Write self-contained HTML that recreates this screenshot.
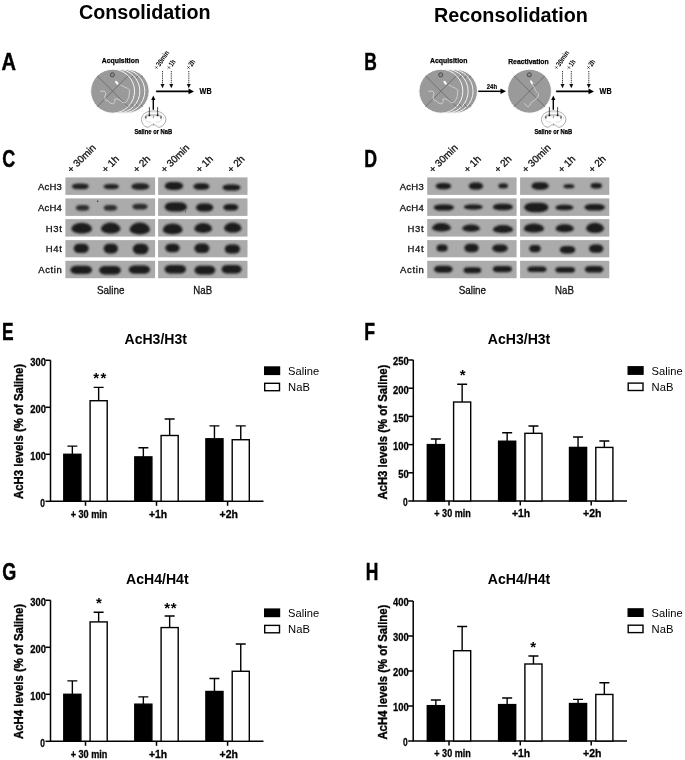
<!DOCTYPE html>
<html><head><meta charset="utf-8"><style>
html,body{margin:0;padding:0;background:#fff;}
svg{display:block;will-change:transform;filter:blur(0.3px);}
text{font-family:"Liberation Sans",sans-serif;}
</style></head><body>
<svg width="685" height="760" viewBox="0 0 685 760">
<defs>
<filter id="bl" x="-50%" y="-50%" width="200%" height="200%"><feGaussianBlur stdDeviation="0.8"/></filter>
</defs>
<rect width="685" height="760" fill="#fff"/>
<text x="79.0" y="18.6" font-size="20" font-weight="bold" text-anchor="start" textLength="131.5" lengthAdjust="spacingAndGlyphs" fill="#000" >Consolidation</text>
<text x="434.0" y="22.2" font-size="20" font-weight="bold" text-anchor="start" textLength="153.8" lengthAdjust="spacingAndGlyphs" fill="#000" >Reconsolidation</text>
<text x="1.5" y="69.8" font-size="24" font-weight="bold" textLength="14.5" lengthAdjust="spacingAndGlyphs" stroke="#000" stroke-width="0.45">A</text>
<text x="364.3" y="69.8" font-size="24" font-weight="bold" textLength="12.6" lengthAdjust="spacingAndGlyphs" stroke="#000" stroke-width="0.45">B</text>
<text x="2.2" y="166.6" font-size="24" font-weight="bold" textLength="13.0" lengthAdjust="spacingAndGlyphs" stroke="#000" stroke-width="0.45">C</text>
<text x="364.3" y="166.9" font-size="24" font-weight="bold" textLength="12.8" lengthAdjust="spacingAndGlyphs" stroke="#000" stroke-width="0.45">D</text>
<text x="2.0" y="339.8" font-size="24" font-weight="bold" textLength="11.6" lengthAdjust="spacingAndGlyphs" stroke="#000" stroke-width="0.45">E</text>
<text x="364.3" y="339.8" font-size="24" font-weight="bold" textLength="10.8" lengthAdjust="spacingAndGlyphs" stroke="#000" stroke-width="0.45">F</text>
<text x="2.2" y="579.6" font-size="24" font-weight="bold" textLength="14.0" lengthAdjust="spacingAndGlyphs" stroke="#000" stroke-width="0.45">G</text>
<text x="365.7" y="579.8" font-size="24" font-weight="bold" textLength="12.6" lengthAdjust="spacingAndGlyphs" stroke="#000" stroke-width="0.45">H</text>
<g transform="translate(0,0)">
<clipPath id="ac0"><circle cx="127.19999999999999" cy="91.2" r="21.95"/></clipPath>
<circle cx="127.19999999999999" cy="91.2" r="21.95" fill="#9a9a9a" stroke="#fff" stroke-width="0.9"/>
<g clip-path="url(#ac0)" stroke="#555" stroke-width="0.6"><path d="M105.24999999999999 69.25 L149.14999999999998 113.15 M149.14999999999998 69.25 L105.24999999999999 113.15"/></g>
<circle cx="126.99999999999999" cy="74.80000000000001" r="2.1" fill="#8a8a8a" stroke="#333" stroke-width="0.7"/>
<clipPath id="ac1"><circle cx="122.8" cy="91.2" r="21.95"/></clipPath>
<circle cx="122.8" cy="91.2" r="21.95" fill="#9a9a9a" stroke="#fff" stroke-width="0.9"/>
<g clip-path="url(#ac1)" stroke="#555" stroke-width="0.6"><path d="M100.85 69.25 L144.75 113.15 M144.75 69.25 L100.85 113.15"/></g>
<circle cx="122.6" cy="74.80000000000001" r="2.1" fill="#8a8a8a" stroke="#333" stroke-width="0.7"/>
<clipPath id="ac2"><circle cx="117.89999999999999" cy="91.2" r="21.95"/></clipPath>
<circle cx="117.89999999999999" cy="91.2" r="21.95" fill="#9a9a9a" stroke="#fff" stroke-width="0.9"/>
<g clip-path="url(#ac2)" stroke="#555" stroke-width="0.6"><path d="M95.94999999999999 69.25 L139.85 113.15 M139.85 69.25 L95.94999999999999 113.15"/></g>
<circle cx="117.69999999999999" cy="74.80000000000001" r="2.1" fill="#8a8a8a" stroke="#333" stroke-width="0.7"/>
<clipPath id="ac3"><circle cx="112.6" cy="91.2" r="21.95"/></clipPath>
<circle cx="112.6" cy="91.2" r="21.95" fill="#9a9a9a" stroke="#fff" stroke-width="0.9"/>
<g clip-path="url(#ac3)" stroke="#555" stroke-width="0.6"><path d="M90.64999999999999 69.25 L134.54999999999998 113.15 M134.54999999999998 69.25 L90.64999999999999 113.15"/></g>
<circle cx="112.39999999999999" cy="74.80000000000001" r="2.1" fill="#8a8a8a" stroke="#333" stroke-width="0.7"/>
<path d="M100,91.2 L104.4,91.2 L105.9,93.4 L104.8,96.7 L105.2,99.9 L108.1,101 L109.9,102.9 L113.2,104 L115,101.8 L114.6,99.2 L117.2,98.8 L120.1,100.3 L122.7,102.5 L125.2,102.9 L127.4,100.3 L128.9,96.7 L129.6,90.1 L127.4,88.3 L124.5,87.2 L122.3,85.7 L120.5,85.3" fill="none" stroke="#e2e2e2" stroke-width="0.7" stroke-linejoin="round"/>
<ellipse cx="116.8" cy="82.8" rx="1.1" ry="2.3" transform="rotate(-40 116.8 82.8)" fill="#fff"/>
<text x="101.7" y="63.1" font-size="7.2" font-weight="bold" text-anchor="start" textLength="37.5" lengthAdjust="spacingAndGlyphs" fill="#000" stroke="#000" stroke-width="0.25">Acquisition</text>
</g>
<g transform="translate(0,0)">
<path d="M156.1 91.4 H190" stroke="#000" stroke-width="1.6"/>
<path d="M194 91.4 L188.5 88.6 L188.5 94.2 Z" fill="#000"/>
<text x="199.6" y="93.8" font-size="8.2" font-weight="bold" text-anchor="start" textLength="12.0" lengthAdjust="spacingAndGlyphs" fill="#000" stroke="#000" stroke-width="0.2">WB</text>
<path d="M162.5 71 V84" stroke="#222" stroke-width="0.9" stroke-dasharray="1.1 0.7"/>
<path d="M162.5 88.3 L160.5 84 L164.5 84 Z" fill="#111"/>
<path d="M171.3 71 V84" stroke="#222" stroke-width="0.9" stroke-dasharray="1.1 0.7"/>
<path d="M171.3 88.3 L169.3 84 L173.3 84 Z" fill="#111"/>
<path d="M188.8 71 V84" stroke="#222" stroke-width="0.9" stroke-dasharray="1.1 0.7"/>
<path d="M188.8 88.3 L186.8 84 L190.8 84 Z" fill="#111"/>
<text transform="translate(159.8,67.0) rotate(-56)" font-size="7.4" font-weight="bold" textLength="17.2" lengthAdjust="spacingAndGlyphs">30min</text>
<path d="M155.3 66.4 l2.2 2.2 M157.5 66.4 l-2.2 2.2" stroke="#111" stroke-width="0.7"/>
<text transform="translate(172.3,67.0) rotate(-56)" font-size="7.4" font-weight="bold" textLength="6.4" lengthAdjust="spacingAndGlyphs">1h</text>
<path d="M167.8 66.4 l2.2 2.2 M170.0 66.4 l-2.2 2.2" stroke="#111" stroke-width="0.7"/>
<text transform="translate(191.9,67.0) rotate(-56)" font-size="7.4" font-weight="bold" textLength="6.6" lengthAdjust="spacingAndGlyphs">2h</text>
<path d="M187.4 66.4 l2.2 2.2 M189.6 66.4 l-2.2 2.2" stroke="#111" stroke-width="0.7"/>
<path d="M153.3 109.8 V99" stroke="#000" stroke-width="1.4"/>
<path d="M153.3 95.6 L151.2 100 L155.4 100 Z" fill="#000"/>
<path d="M149.2 111.4 C144 112.5 141.3 116 141.4 119.5 C141.5 123.5 144 126.3 147 127.2 C148.6 127.6 149.6 126.6 150.6 125.6 C151.6 124.8 152.8 124.8 153.4 125 C154 124.8 155.2 124.8 156.2 125.6 C157.2 126.6 158.2 127.6 159.8 127.2 C162.8 126.3 165.8 123.5 165.9 119.5 C166 116 163 112.5 157.8 111.4 C155 110.8 152 110.8 149.2 111.4 Z" fill="#fff" stroke="#777" stroke-width="0.6"/>
<path d="M144.8 115.6 C147.5 113.6 150.5 114 153.4 114.2 C156.3 114 159.3 113.6 162 115.6 L161.2 117.2 C158.8 116 156 116.2 153.4 116.4 C150.8 116.2 148 116 145.6 117.2 Z" fill="#c8c8c8"/>
<path d="M145 119 C146 121.5 148.5 122.6 151 122 M161.8 119 C160.8 121.5 158.3 122.6 155.8 122" fill="none" stroke="#cfcfcf" stroke-width="0.7"/>
<path d="M143.2 119.5 C143.3 115.5 147 112.8 153.4 112.5 C159.8 112.8 163.5 115.5 163.6 119.5" fill="none" stroke="#d6d6d6" stroke-width="0.5"/>
<ellipse cx="145.8" cy="117.4" rx="1" ry="1.4" fill="#777"/><ellipse cx="161" cy="117.4" rx="1" ry="1.4" fill="#777"/>
<path d="M153.4 115.8 V118.4 M153.4 123.4 V125.2" stroke="#777" stroke-width="0.7"/>
<path d="M149.4 107.1 V115.2" stroke="#222" stroke-width="0.8"/>
<circle cx="149.4" cy="115.3" r="0.9" fill="#111"/>
<path d="M157.6 107.1 V115.2" stroke="#222" stroke-width="0.8"/>
<circle cx="157.6" cy="115.3" r="0.9" fill="#111"/>
<text x="134.4" y="133.6" font-size="6.6" font-weight="bold" text-anchor="start" textLength="37.8" lengthAdjust="spacingAndGlyphs" fill="#000" stroke="#000" stroke-width="0.25">Saline or NaB</text>
</g>
<g transform="translate(328.3,0)">
<clipPath id="bc0"><circle cx="127.19999999999999" cy="91.2" r="21.95"/></clipPath>
<circle cx="127.19999999999999" cy="91.2" r="21.95" fill="#9a9a9a" stroke="#fff" stroke-width="0.9"/>
<g clip-path="url(#bc0)" stroke="#555" stroke-width="0.6"><path d="M105.24999999999999 69.25 L149.14999999999998 113.15 M149.14999999999998 69.25 L105.24999999999999 113.15"/></g>
<circle cx="126.99999999999999" cy="74.80000000000001" r="2.1" fill="#8a8a8a" stroke="#333" stroke-width="0.7"/>
<clipPath id="bc1"><circle cx="122.8" cy="91.2" r="21.95"/></clipPath>
<circle cx="122.8" cy="91.2" r="21.95" fill="#9a9a9a" stroke="#fff" stroke-width="0.9"/>
<g clip-path="url(#bc1)" stroke="#555" stroke-width="0.6"><path d="M100.85 69.25 L144.75 113.15 M144.75 69.25 L100.85 113.15"/></g>
<circle cx="122.6" cy="74.80000000000001" r="2.1" fill="#8a8a8a" stroke="#333" stroke-width="0.7"/>
<clipPath id="bc2"><circle cx="117.89999999999999" cy="91.2" r="21.95"/></clipPath>
<circle cx="117.89999999999999" cy="91.2" r="21.95" fill="#9a9a9a" stroke="#fff" stroke-width="0.9"/>
<g clip-path="url(#bc2)" stroke="#555" stroke-width="0.6"><path d="M95.94999999999999 69.25 L139.85 113.15 M139.85 69.25 L95.94999999999999 113.15"/></g>
<circle cx="117.69999999999999" cy="74.80000000000001" r="2.1" fill="#8a8a8a" stroke="#333" stroke-width="0.7"/>
<clipPath id="bc3"><circle cx="112.6" cy="91.2" r="21.95"/></clipPath>
<circle cx="112.6" cy="91.2" r="21.95" fill="#9a9a9a" stroke="#fff" stroke-width="0.9"/>
<g clip-path="url(#bc3)" stroke="#555" stroke-width="0.6"><path d="M90.64999999999999 69.25 L134.54999999999998 113.15 M134.54999999999998 69.25 L90.64999999999999 113.15"/></g>
<circle cx="112.39999999999999" cy="74.80000000000001" r="2.1" fill="#8a8a8a" stroke="#333" stroke-width="0.7"/>
<path d="M100,91.2 L104.4,91.2 L105.9,93.4 L104.8,96.7 L105.2,99.9 L108.1,101 L109.9,102.9 L113.2,104 L115,101.8 L114.6,99.2 L117.2,98.8 L120.1,100.3 L122.7,102.5 L125.2,102.9 L127.4,100.3 L128.9,96.7 L129.6,90.1 L127.4,88.3 L124.5,87.2 L122.3,85.7 L120.5,85.3" fill="none" stroke="#e2e2e2" stroke-width="0.7" stroke-linejoin="round"/>
<ellipse cx="116.8" cy="82.8" rx="1.1" ry="2.3" transform="rotate(-40 116.8 82.8)" fill="#fff"/>
<text x="101.7" y="63.1" font-size="7.2" font-weight="bold" text-anchor="start" textLength="37.5" lengthAdjust="spacingAndGlyphs" fill="#000" stroke="#000" stroke-width="0.25">Acquisition</text>
</g>
<path d="M478.2 91.3 H502" stroke="#000" stroke-width="1.5"/>
<path d="M506 91.3 L500.5 88.6 L500.5 94 Z" fill="#000"/>
<text x="486.8" y="88.9" font-size="7.2" font-weight="bold" text-anchor="start" textLength="10.2" lengthAdjust="spacingAndGlyphs" fill="#000" stroke="#000" stroke-width="0.2">24h</text>
<clipPath id="rc"><circle cx="529.5" cy="91.2" r="21.95"/></clipPath>
<circle cx="529.5" cy="91.2" r="21.95" fill="#9a9a9a" stroke="#fff" stroke-width="0.9"/>
<g clip-path="url(#rc)" stroke="#555" stroke-width="0.6"><path d="M507.55 69.25 L551.45 113.15 M551.45 69.25 L507.55 113.15"/></g>
<circle cx="529.3" cy="74.80000000000001" r="2.1" fill="#8a8a8a" stroke="#333" stroke-width="0.7"/>
<path d="M532.4,85 L534.2,87.2 L535.7,90.8 L538.2,93.4 L538.6,95.2 L537.1,98.1 L534.2,100.3 L531.3,102.5 L529.8,105.4 L528.4,106.9 L526.2,105.4 L524.3,103.2" fill="none" stroke="#e2e2e2" stroke-width="0.7" stroke-linejoin="round"/>
<ellipse cx="531.5" cy="82.4" rx="1.1" ry="2.3" transform="rotate(-25 531.5 82.4)" fill="#fff"/>
<text x="508.2" y="63.7" font-size="7.2" font-weight="bold" text-anchor="start" textLength="40.5" lengthAdjust="spacingAndGlyphs" fill="#000" stroke="#000" stroke-width="0.25">Reactivation</text>
<g transform="translate(400,0)">
<path d="M156.1 91.4 H190" stroke="#000" stroke-width="1.6"/>
<path d="M194 91.4 L188.5 88.6 L188.5 94.2 Z" fill="#000"/>
<text x="199.6" y="93.8" font-size="8.2" font-weight="bold" text-anchor="start" textLength="12.0" lengthAdjust="spacingAndGlyphs" fill="#000" stroke="#000" stroke-width="0.2">WB</text>
<path d="M162.5 71 V84" stroke="#222" stroke-width="0.9" stroke-dasharray="1.1 0.7"/>
<path d="M162.5 88.3 L160.5 84 L164.5 84 Z" fill="#111"/>
<path d="M171.3 71 V84" stroke="#222" stroke-width="0.9" stroke-dasharray="1.1 0.7"/>
<path d="M171.3 88.3 L169.3 84 L173.3 84 Z" fill="#111"/>
<path d="M188.8 71 V84" stroke="#222" stroke-width="0.9" stroke-dasharray="1.1 0.7"/>
<path d="M188.8 88.3 L186.8 84 L190.8 84 Z" fill="#111"/>
<text transform="translate(159.8,67.0) rotate(-56)" font-size="7.4" font-weight="bold" textLength="17.2" lengthAdjust="spacingAndGlyphs">30min</text>
<path d="M155.3 66.4 l2.2 2.2 M157.5 66.4 l-2.2 2.2" stroke="#111" stroke-width="0.7"/>
<text transform="translate(172.3,67.0) rotate(-56)" font-size="7.4" font-weight="bold" textLength="6.4" lengthAdjust="spacingAndGlyphs">1h</text>
<path d="M167.8 66.4 l2.2 2.2 M170.0 66.4 l-2.2 2.2" stroke="#111" stroke-width="0.7"/>
<text transform="translate(191.9,67.0) rotate(-56)" font-size="7.4" font-weight="bold" textLength="6.6" lengthAdjust="spacingAndGlyphs">2h</text>
<path d="M187.4 66.4 l2.2 2.2 M189.6 66.4 l-2.2 2.2" stroke="#111" stroke-width="0.7"/>
<path d="M153.3 109.8 V99" stroke="#000" stroke-width="1.4"/>
<path d="M153.3 95.6 L151.2 100 L155.4 100 Z" fill="#000"/>
<path d="M149.2 111.4 C144 112.5 141.3 116 141.4 119.5 C141.5 123.5 144 126.3 147 127.2 C148.6 127.6 149.6 126.6 150.6 125.6 C151.6 124.8 152.8 124.8 153.4 125 C154 124.8 155.2 124.8 156.2 125.6 C157.2 126.6 158.2 127.6 159.8 127.2 C162.8 126.3 165.8 123.5 165.9 119.5 C166 116 163 112.5 157.8 111.4 C155 110.8 152 110.8 149.2 111.4 Z" fill="#fff" stroke="#777" stroke-width="0.6"/>
<path d="M144.8 115.6 C147.5 113.6 150.5 114 153.4 114.2 C156.3 114 159.3 113.6 162 115.6 L161.2 117.2 C158.8 116 156 116.2 153.4 116.4 C150.8 116.2 148 116 145.6 117.2 Z" fill="#c8c8c8"/>
<path d="M145 119 C146 121.5 148.5 122.6 151 122 M161.8 119 C160.8 121.5 158.3 122.6 155.8 122" fill="none" stroke="#cfcfcf" stroke-width="0.7"/>
<path d="M143.2 119.5 C143.3 115.5 147 112.8 153.4 112.5 C159.8 112.8 163.5 115.5 163.6 119.5" fill="none" stroke="#d6d6d6" stroke-width="0.5"/>
<ellipse cx="145.8" cy="117.4" rx="1" ry="1.4" fill="#777"/><ellipse cx="161" cy="117.4" rx="1" ry="1.4" fill="#777"/>
<path d="M153.4 115.8 V118.4 M153.4 123.4 V125.2" stroke="#777" stroke-width="0.7"/>
<path d="M149.4 107.1 V115.2" stroke="#222" stroke-width="0.8"/>
<circle cx="149.4" cy="115.3" r="0.9" fill="#111"/>
<path d="M157.6 107.1 V115.2" stroke="#222" stroke-width="0.8"/>
<circle cx="157.6" cy="115.3" r="0.9" fill="#111"/>
<text x="134.4" y="133.6" font-size="6.6" font-weight="bold" text-anchor="start" textLength="37.8" lengthAdjust="spacingAndGlyphs" fill="#000" stroke="#000" stroke-width="0.25">Saline or NaB</text>
</g>
<rect x="65.4" y="177.4" width="89.69999999999999" height="17.5" fill="#ababab"/>
<rect x="65.4" y="198.4" width="89.69999999999999" height="17.5" fill="#ababab"/>
<rect x="65.4" y="219.1" width="89.69999999999999" height="17.5" fill="#ababab"/>
<rect x="65.4" y="240.1" width="89.69999999999999" height="17.200000000000017" fill="#ababab"/>
<rect x="65.4" y="260.8" width="89.69999999999999" height="17.399999999999977" fill="#ababab"/>
<rect x="158.1" y="177.4" width="89.4" height="17.5" fill="#ababab"/>
<rect x="158.1" y="198.4" width="89.4" height="17.5" fill="#ababab"/>
<rect x="158.1" y="219.1" width="89.4" height="17.5" fill="#ababab"/>
<rect x="158.1" y="240.1" width="89.4" height="17.200000000000017" fill="#ababab"/>
<rect x="158.1" y="260.8" width="89.4" height="17.399999999999977" fill="#ababab"/>
<g filter="url(#bl)" fill="#1a1a1a">
<g fill="#222">
<rect x="71.85" y="183.50" width="16.90" height="5.80" rx="6.08" ry="2.90"/>
</g>
<g fill="#242424">
<rect x="103.60" y="184.00" width="15.40" height="5.20" rx="5.54" ry="2.60"/>
</g>
<g fill="#222">
<rect x="131.35" y="183.35" width="17.90" height="6.30" rx="6.44" ry="3.15"/>
</g>
<rect x="164.70" y="182.10" width="18.40" height="7.80" rx="6.62" ry="3.90"/>
<rect x="193.40" y="183.35" width="16.00" height="6.30" rx="5.76" ry="3.15"/>
<rect x="222.55" y="184.40" width="17.90" height="6.20" rx="6.44" ry="3.10"/>
<g fill="#2e2e2e">
<rect x="75.90" y="204.90" width="13.40" height="5.80" rx="4.82" ry="2.90"/>
</g>
<g fill="#2e2e2e">
<rect x="103.70" y="204.90" width="13.40" height="5.80" rx="4.82" ry="2.90"/>
</g>
<g fill="#2a2a2a">
<rect x="132.30" y="203.70" width="15.40" height="5.80" rx="5.54" ry="2.90"/>
</g>
<rect x="164.60" y="202.25" width="22.40" height="9.30" rx="8.06" ry="4.65"/>
<rect x="195.90" y="203.45" width="17.40" height="8.10" rx="6.26" ry="4.05"/>
<rect x="223.30" y="204.00" width="15.00" height="6.60" rx="5.40" ry="3.30"/>
<path d="M71.50 229.18 A10.20 6.48 0 0 1 91.90 229.18 A10.20 4.32 0 0 1 71.50 229.18 Z"/>
<path d="M101.00 229.08 A9.70 6.48 0 0 1 120.40 229.08 A9.70 4.32 0 0 1 101.00 229.08 Z"/>
<path d="M129.60 229.68 A10.20 7.08 0 0 1 150.00 229.68 A10.20 4.72 0 0 1 129.60 229.68 Z"/>
<path d="M162.80 229.88 A9.90 6.48 0 0 1 182.60 229.88 A9.90 4.32 0 0 1 162.80 229.88 Z"/>
<path d="M194.35 228.98 A8.85 5.88 0 0 1 212.05 228.98 A8.85 3.92 0 0 1 194.35 228.98 Z"/>
<path d="M224.10 228.60 A8.70 6.00 0 0 1 241.50 228.60 A8.70 4.00 0 0 1 224.10 228.60 Z"/>
<rect x="73.70" y="243.75" width="15.00" height="9.30" rx="5.40" ry="4.65"/>
<rect x="103.60" y="243.80" width="14.40" height="9.60" rx="5.18" ry="4.80"/>
<rect x="132.85" y="243.85" width="15.70" height="10.30" rx="5.65" ry="5.15"/>
<rect x="165.30" y="243.80" width="14.40" height="8.40" rx="5.18" ry="4.20"/>
<rect x="194.40" y="243.50" width="15.00" height="9.60" rx="5.40" ry="4.80"/>
<rect x="224.70" y="244.45" width="15.40" height="9.10" rx="5.54" ry="4.55"/>
<rect x="70.35" y="265.70" width="21.70" height="8.40" rx="6.08" ry="4.20"/>
<rect x="99.20" y="266.05" width="21.60" height="8.50" rx="6.05" ry="4.25"/>
<rect x="128.70" y="265.40" width="21.40" height="8.40" rx="5.99" ry="4.20"/>
<rect x="164.60" y="265.05" width="21.40" height="8.50" rx="5.99" ry="4.25"/>
<rect x="194.45" y="265.70" width="20.90" height="8.80" rx="5.85" ry="4.40"/>
<rect x="221.65" y="265.05" width="19.90" height="8.50" rx="5.57" ry="4.25"/>
</g>
<text x="61.9" y="190.1" font-size="9.5" text-anchor="end" textLength="24.0" lengthAdjust="spacing" fill="#111" stroke="#111" stroke-width="0.3">AcH3</text>
<text x="61.9" y="210.8" font-size="9.5" text-anchor="end" textLength="24.0" lengthAdjust="spacing" fill="#111" stroke="#111" stroke-width="0.3">AcH4</text>
<text x="61.9" y="231.5" font-size="9.5" text-anchor="end" textLength="16.2" lengthAdjust="spacing" fill="#111" stroke="#111" stroke-width="0.3">H3t</text>
<text x="61.9" y="252.2" font-size="9.5" text-anchor="end" textLength="16.2" lengthAdjust="spacing" fill="#111" stroke="#111" stroke-width="0.3">H4t</text>
<text x="61.9" y="273.2" font-size="9.5" text-anchor="end" textLength="23.6" lengthAdjust="spacing" fill="#111" stroke="#111" stroke-width="0.3">Actin</text>
<text transform="translate(71.2,173.6) rotate(-45)" font-size="10" fill="#111" stroke="#111" stroke-width="0.3">+ 30min</text>
<text transform="translate(105.7,173.6) rotate(-45)" font-size="10" fill="#111" stroke="#111" stroke-width="0.3">+ 1h</text>
<text transform="translate(137.0,173.6) rotate(-45)" font-size="10" fill="#111" stroke="#111" stroke-width="0.3">+ 2h</text>
<text transform="translate(164.7,173.6) rotate(-45)" font-size="10" fill="#111" stroke="#111" stroke-width="0.3">+ 30min</text>
<text transform="translate(199.7,173.6) rotate(-45)" font-size="10" fill="#111" stroke="#111" stroke-width="0.3">+ 1h</text>
<text transform="translate(231.29999999999998,173.6) rotate(-45)" font-size="10" fill="#111" stroke="#111" stroke-width="0.3">+ 2h</text>
<text x="97.0" y="293.9" font-size="11" text-anchor="start" textLength="27.4" lengthAdjust="spacingAndGlyphs" fill="#111" stroke="#111" stroke-width="0.3">Saline</text>
<text x="193.3" y="293.9" font-size="11" text-anchor="start" textLength="18.8" lengthAdjust="spacingAndGlyphs" fill="#111" stroke="#111" stroke-width="0.3">NaB</text>
<rect x="427.2" y="177.4" width="89.40000000000003" height="17.5" fill="#ababab"/>
<rect x="427.2" y="198.4" width="89.40000000000003" height="17.5" fill="#ababab"/>
<rect x="427.2" y="219.1" width="89.40000000000003" height="17.5" fill="#ababab"/>
<rect x="427.2" y="240.1" width="89.40000000000003" height="17.200000000000017" fill="#ababab"/>
<rect x="427.2" y="260.8" width="89.40000000000003" height="17.399999999999977" fill="#ababab"/>
<rect x="520.1" y="177.4" width="89.19999999999993" height="17.5" fill="#ababab"/>
<rect x="520.1" y="198.4" width="89.19999999999993" height="17.5" fill="#ababab"/>
<rect x="520.1" y="219.1" width="89.19999999999993" height="17.5" fill="#ababab"/>
<rect x="520.1" y="240.1" width="89.19999999999993" height="17.200000000000017" fill="#ababab"/>
<rect x="520.1" y="260.8" width="89.19999999999993" height="17.399999999999977" fill="#ababab"/>
<g filter="url(#bl)" fill="#1a1a1a">
<rect x="435.60" y="183.00" width="15.60" height="6.20" rx="5.62" ry="3.10"/>
<rect x="468.70" y="182.60" width="14.40" height="7.00" rx="5.18" ry="3.50"/>
<rect x="498.50" y="183.60" width="9.40" height="4.60" rx="3.38" ry="2.30"/>
<rect x="531.50" y="182.15" width="17.20" height="7.50" rx="6.19" ry="3.75"/>
<rect x="563.60" y="184.30" width="10.60" height="4.00" rx="3.82" ry="2.00"/>
<rect x="590.60" y="183.05" width="11.40" height="5.50" rx="4.10" ry="2.75"/>
<rect x="433.75" y="204.40" width="20.10" height="6.20" rx="7.24" ry="3.10"/>
<rect x="463.90" y="204.40" width="18.80" height="5.20" rx="6.77" ry="2.60"/>
<rect x="492.85" y="203.70" width="20.10" height="6.60" rx="7.24" ry="3.30"/>
<rect x="524.20" y="202.65" width="24.20" height="9.50" rx="8.71" ry="4.75"/>
<rect x="555.30" y="204.85" width="18.20" height="5.50" rx="6.55" ry="2.75"/>
<rect x="584.50" y="204.00" width="20.40" height="6.60" rx="7.34" ry="3.30"/>
<path d="M432.15 228.14 A9.35 5.04 0 0 1 450.85 228.14 A9.35 3.36 0 0 1 432.15 228.14 Z"/>
<path d="M462.15 228.82 A8.95 4.32 0 0 1 480.05 228.82 A8.95 2.88 0 0 1 462.15 228.82 Z"/>
<path d="M492.80 229.78 A10.20 4.68 0 0 1 513.20 229.78 A10.20 3.12 0 0 1 492.80 229.78 Z"/>
<path d="M523.80 228.92 A10.10 5.52 0 0 1 544.00 228.92 A10.10 3.68 0 0 1 523.80 228.92 Z"/>
<path d="M555.60 229.01 A9.10 4.86 0 0 1 573.80 229.01 A9.10 3.24 0 0 1 555.60 229.01 Z"/>
<path d="M586.05 228.83 A8.95 6.18 0 0 1 603.95 228.83 A8.95 4.12 0 0 1 586.05 228.83 Z"/>
<rect x="436.60" y="244.45" width="11.00" height="7.10" rx="3.96" ry="3.55"/>
<rect x="464.30" y="243.80" width="14.40" height="8.40" rx="5.18" ry="4.20"/>
<rect x="492.30" y="244.40" width="15.40" height="7.80" rx="5.54" ry="3.90"/>
<rect x="529.30" y="245.00" width="11.40" height="7.20" rx="4.10" ry="3.60"/>
<rect x="559.70" y="246.00" width="15.60" height="7.60" rx="5.62" ry="3.80"/>
<rect x="588.95" y="244.55" width="14.50" height="8.10" rx="5.22" ry="4.05"/>
<rect x="434.05" y="265.75" width="18.50" height="6.90" rx="5.17" ry="3.45"/>
<rect x="463.60" y="267.25" width="17.60" height="5.90" rx="4.42" ry="2.95"/>
<rect x="492.85" y="265.95" width="19.10" height="6.30" rx="4.72" ry="3.15"/>
<rect x="527.55" y="266.40" width="18.90" height="5.60" rx="4.20" ry="2.80"/>
<rect x="555.35" y="266.90" width="19.70" height="5.80" rx="4.35" ry="2.90"/>
<rect x="584.80" y="266.00" width="18.60" height="6.60" rx="4.95" ry="3.30"/>
</g>
<text x="423.7" y="190.1" font-size="9.5" text-anchor="end" textLength="24.0" lengthAdjust="spacing" fill="#111" stroke="#111" stroke-width="0.3">AcH3</text>
<text x="423.7" y="210.8" font-size="9.5" text-anchor="end" textLength="24.0" lengthAdjust="spacing" fill="#111" stroke="#111" stroke-width="0.3">AcH4</text>
<text x="423.7" y="231.5" font-size="9.5" text-anchor="end" textLength="16.2" lengthAdjust="spacing" fill="#111" stroke="#111" stroke-width="0.3">H3t</text>
<text x="423.7" y="252.2" font-size="9.5" text-anchor="end" textLength="16.2" lengthAdjust="spacing" fill="#111" stroke="#111" stroke-width="0.3">H4t</text>
<text x="423.7" y="273.2" font-size="9.5" text-anchor="end" textLength="23.6" lengthAdjust="spacing" fill="#111" stroke="#111" stroke-width="0.3">Actin</text>
<text transform="translate(433.0,173.6) rotate(-45)" font-size="10" fill="#111" stroke="#111" stroke-width="0.3">+ 30min</text>
<text transform="translate(467.7,173.6) rotate(-45)" font-size="10" fill="#111" stroke="#111" stroke-width="0.3">+ 1h</text>
<text transform="translate(498.2,173.6) rotate(-45)" font-size="10" fill="#111" stroke="#111" stroke-width="0.3">+ 2h</text>
<text transform="translate(526.0,173.6) rotate(-45)" font-size="10" fill="#111" stroke="#111" stroke-width="0.3">+ 30min</text>
<text transform="translate(562.0,173.6) rotate(-45)" font-size="10" fill="#111" stroke="#111" stroke-width="0.3">+ 1h</text>
<text transform="translate(592.5,173.6) rotate(-45)" font-size="10" fill="#111" stroke="#111" stroke-width="0.3">+ 2h</text>
<text x="458.7" y="293.9" font-size="11" text-anchor="start" textLength="27.4" lengthAdjust="spacingAndGlyphs" fill="#111" stroke="#111" stroke-width="0.3">Saline</text>
<text x="555.1" y="293.9" font-size="11" text-anchor="start" textLength="18.8" lengthAdjust="spacingAndGlyphs" fill="#111" stroke="#111" stroke-width="0.3">NaB</text>
<circle cx="97.7" cy="201.2" r="0.7" fill="#222"/>
<circle cx="185.5" cy="211.8" r="0.5" fill="#333"/>
<g stroke="#000" stroke-width="1.5" fill="none">
<path d="M50.5 360.3 V501.3 H263.5"/>
<path d="M45.5 501.3 H50.5"/>
<path d="M45.5 454.3 H50.5"/>
<path d="M45.5 407.3 H50.5"/>
<path d="M45.5 360.3 H50.5"/>
<path d="M85.5 501.3 v4.5"/>
<path d="M156.5 501.3 v4.5"/>
<path d="M227.6 501.3 v4.5"/>
</g>
<text x="44.9" y="506.7" font-size="11.6" font-weight="bold" text-anchor="end" textLength="4.7" lengthAdjust="spacingAndGlyphs" fill="#000" stroke="#000" stroke-width="0.3">0</text>
<text x="45.9" y="459.7" font-size="11.6" font-weight="bold" text-anchor="end" textLength="15.6" lengthAdjust="spacingAndGlyphs" fill="#000" stroke="#000" stroke-width="0.3">100</text>
<text x="45.9" y="412.7" font-size="11.6" font-weight="bold" text-anchor="end" textLength="15.6" lengthAdjust="spacingAndGlyphs" fill="#000" stroke="#000" stroke-width="0.3">200</text>
<text x="45.9" y="365.7" font-size="11.6" font-weight="bold" text-anchor="end" textLength="15.6" lengthAdjust="spacingAndGlyphs" fill="#000" stroke="#000" stroke-width="0.3">300</text>
<g stroke="#000" stroke-width="1.4">
<path d="M72.35000000000001 454.3 V446.07500000000005 M67.35000000000001 446.07500000000005 H77.35000000000001" fill="none"/>
<rect x="63.800000000000004" y="454.3" width="17.1" height="47.0" fill="#000"/>
<path d="M98.65 400.72 V387.32500000000005 M93.65 387.32500000000005 H103.65" fill="none"/>
<rect x="90.10000000000001" y="400.72" width="17.1" height="100.57999999999998" fill="#fff"/>
<path d="M143.35 456.885 V447.72 M138.35 447.72 H148.35" fill="none"/>
<rect x="134.79999999999998" y="456.885" width="17.1" height="44.41500000000002" fill="#000"/>
<path d="M169.65 435.5 V419.05 M164.65 419.05 H174.65" fill="none"/>
<rect x="161.1" y="435.5" width="17.1" height="65.80000000000001" fill="#fff"/>
<path d="M214.45 438.79 V425.865 M209.45 425.865 H219.45" fill="none"/>
<rect x="205.89999999999998" y="438.79" width="17.1" height="62.50999999999999" fill="#000"/>
<path d="M240.75 439.73 V425.865 M235.75 425.865 H245.75" fill="none"/>
<rect x="232.2" y="439.73" width="17.1" height="61.56999999999999" fill="#fff"/>
</g>
<text x="70.7" y="517.6" font-size="11.4" font-weight="bold" text-anchor="start" textLength="36.6" lengthAdjust="spacingAndGlyphs" fill="#000" stroke="#000" stroke-width="0.3">+ 30 min</text>
<text x="149.0" y="517.6" font-size="11.4" font-weight="bold" text-anchor="start" textLength="18.2" lengthAdjust="spacingAndGlyphs" fill="#000" stroke="#000" stroke-width="0.3">+1h</text>
<text x="219.5" y="517.6" font-size="11.4" font-weight="bold" text-anchor="start" textLength="18.4" lengthAdjust="spacingAndGlyphs" fill="#000" stroke="#000" stroke-width="0.3">+2h</text>
<text x="96.2" y="383.0" font-size="15" font-weight="bold" text-anchor="middle" fill="#000" >*</text>
<text x="103.3" y="383.0" font-size="15" font-weight="bold" text-anchor="middle" fill="#000" >*</text>
<text x="124.5" y="343.7" font-size="14" font-weight="bold" text-anchor="start" textLength="62.5" lengthAdjust="spacingAndGlyphs" fill="#000" >AcH3/H3t</text>
<text transform="translate(22.7,498.90000000000003) rotate(-90)" font-size="12" font-weight="bold" textLength="135" lengthAdjust="spacingAndGlyphs" stroke="#000" stroke-width="0.35">AcH3 levels (% of Saline)</text>
<rect x="264.7" y="367.0" width="14.8" height="7.4" fill="#000" stroke="#000" stroke-width="1.4"/>
<rect x="264.7" y="383.3" width="14.8" height="7.4" fill="#fff" stroke="#000" stroke-width="1.4"/>
<text x="288.1" y="374.7" font-size="11.2" text-anchor="start" textLength="31" lengthAdjust="spacingAndGlyphs" fill="#000" >Saline</text>
<text x="288.1" y="391.3" font-size="11.2" text-anchor="start" textLength="21.8" lengthAdjust="spacingAndGlyphs" fill="#000" >NaB</text>
<g stroke="#000" stroke-width="1.5" fill="none">
<path d="M413.3 360.0 V501.0 H627.0"/>
<path d="M408.3 501.0 H413.3"/>
<path d="M408.3 472.8 H413.3"/>
<path d="M408.3 444.6 H413.3"/>
<path d="M408.3 416.4 H413.3"/>
<path d="M408.3 388.20000000000005 H413.3"/>
<path d="M408.3 360.0 H413.3"/>
<path d="M449.0 501.0 v4.5"/>
<path d="M520.3 501.0 v4.5"/>
<path d="M591.2 501.0 v4.5"/>
</g>
<text x="407.7" y="506.4" font-size="11.6" font-weight="bold" text-anchor="end" textLength="4.7" lengthAdjust="spacingAndGlyphs" fill="#000" stroke="#000" stroke-width="0.3">0</text>
<text x="408.7" y="478.2" font-size="11.6" font-weight="bold" text-anchor="end" textLength="10.4" lengthAdjust="spacingAndGlyphs" fill="#000" stroke="#000" stroke-width="0.3">50</text>
<text x="408.7" y="450.0" font-size="11.6" font-weight="bold" text-anchor="end" textLength="15.6" lengthAdjust="spacingAndGlyphs" fill="#000" stroke="#000" stroke-width="0.3">100</text>
<text x="408.7" y="421.79999999999995" font-size="11.6" font-weight="bold" text-anchor="end" textLength="15.6" lengthAdjust="spacingAndGlyphs" fill="#000" stroke="#000" stroke-width="0.3">150</text>
<text x="408.7" y="393.6" font-size="11.6" font-weight="bold" text-anchor="end" textLength="15.6" lengthAdjust="spacingAndGlyphs" fill="#000" stroke="#000" stroke-width="0.3">200</text>
<text x="408.7" y="365.4" font-size="11.6" font-weight="bold" text-anchor="end" textLength="15.6" lengthAdjust="spacingAndGlyphs" fill="#000" stroke="#000" stroke-width="0.3">250</text>
<g stroke="#000" stroke-width="1.4">
<path d="M435.85 444.6 V438.96000000000004 M430.85 438.96000000000004 H440.85" fill="none"/>
<rect x="427.3" y="444.6" width="17.1" height="56.39999999999998" fill="#000"/>
<path d="M462.15 402.01800000000003 V384.252 M457.15 384.252 H467.15" fill="none"/>
<rect x="453.59999999999997" y="402.01800000000003" width="17.1" height="98.98199999999997" fill="#fff"/>
<path d="M507.15 441.216 V432.756 M502.15 432.756 H512.15" fill="none"/>
<rect x="498.59999999999997" y="441.216" width="17.1" height="59.78399999999999" fill="#000"/>
<path d="M533.4499999999999 433.32 V425.988 M528.4499999999999 425.988 H538.4499999999999" fill="none"/>
<rect x="524.9" y="433.32" width="17.1" height="67.68" fill="#fff"/>
<path d="M578.0500000000001 447.42 V436.986 M573.0500000000001 436.986 H583.0500000000001" fill="none"/>
<rect x="569.5000000000001" y="447.42" width="17.1" height="53.579999999999984" fill="#000"/>
<path d="M604.35 447.42 V440.934 M599.35 440.934 H609.35" fill="none"/>
<rect x="595.8000000000001" y="447.42" width="17.1" height="53.579999999999984" fill="#fff"/>
</g>
<text x="434.3" y="517.3" font-size="11.4" font-weight="bold" text-anchor="start" textLength="36.6" lengthAdjust="spacingAndGlyphs" fill="#000" stroke="#000" stroke-width="0.3">+ 30 min</text>
<text x="512.0" y="517.3" font-size="11.4" font-weight="bold" text-anchor="start" textLength="18.2" lengthAdjust="spacingAndGlyphs" fill="#000" stroke="#000" stroke-width="0.3">+1h</text>
<text x="583.0" y="517.3" font-size="11.4" font-weight="bold" text-anchor="start" textLength="18.4" lengthAdjust="spacingAndGlyphs" fill="#000" stroke="#000" stroke-width="0.3">+2h</text>
<text x="462.7" y="379.7" font-size="15" font-weight="bold" text-anchor="middle" fill="#000" >*</text>
<text x="487.8" y="343.8" font-size="14" font-weight="bold" text-anchor="start" textLength="62.5" lengthAdjust="spacingAndGlyphs" fill="#000" >AcH3/H3t</text>
<text transform="translate(387.0,499.6) rotate(-90)" font-size="12" font-weight="bold" textLength="135" lengthAdjust="spacingAndGlyphs" stroke="#000" stroke-width="0.35">AcH3 levels (% of Saline)</text>
<rect x="628.2" y="366.8" width="14.8" height="7.4" fill="#000" stroke="#000" stroke-width="1.4"/>
<rect x="628.2" y="383.1" width="14.8" height="7.4" fill="#fff" stroke="#000" stroke-width="1.4"/>
<text x="651.6" y="374.5" font-size="11.2" text-anchor="start" textLength="31" lengthAdjust="spacingAndGlyphs" fill="#000" >Saline</text>
<text x="651.6" y="391.1" font-size="11.2" text-anchor="start" textLength="21.8" lengthAdjust="spacingAndGlyphs" fill="#000" >NaB</text>
<g stroke="#000" stroke-width="1.5" fill="none">
<path d="M50.5 600.3 V741.3 H263.5"/>
<path d="M45.5 741.3 H50.5"/>
<path d="M45.5 694.3 H50.5"/>
<path d="M45.5 647.3 H50.5"/>
<path d="M45.5 600.3 H50.5"/>
<path d="M85.5 741.3 v4.5"/>
<path d="M156.5 741.3 v4.5"/>
<path d="M227.6 741.3 v4.5"/>
</g>
<text x="44.9" y="746.6999999999999" font-size="11.6" font-weight="bold" text-anchor="end" textLength="4.7" lengthAdjust="spacingAndGlyphs" fill="#000" stroke="#000" stroke-width="0.3">0</text>
<text x="45.9" y="699.6999999999999" font-size="11.6" font-weight="bold" text-anchor="end" textLength="15.6" lengthAdjust="spacingAndGlyphs" fill="#000" stroke="#000" stroke-width="0.3">100</text>
<text x="45.9" y="652.6999999999999" font-size="11.6" font-weight="bold" text-anchor="end" textLength="15.6" lengthAdjust="spacingAndGlyphs" fill="#000" stroke="#000" stroke-width="0.3">200</text>
<text x="45.9" y="605.6999999999999" font-size="11.6" font-weight="bold" text-anchor="end" textLength="15.6" lengthAdjust="spacingAndGlyphs" fill="#000" stroke="#000" stroke-width="0.3">300</text>
<g stroke="#000" stroke-width="1.4">
<path d="M72.35000000000001 694.3 V680.905 M67.35000000000001 680.905 H77.35000000000001" fill="none"/>
<rect x="63.800000000000004" y="694.3" width="17.1" height="47.0" fill="#000"/>
<path d="M98.65 621.92 V612.285 M93.65 612.285 H103.65" fill="none"/>
<rect x="90.10000000000001" y="621.92" width="17.1" height="119.38" fill="#fff"/>
<path d="M143.35 704.17 V696.885 M138.35 696.885 H148.35" fill="none"/>
<rect x="134.79999999999998" y="704.17" width="17.1" height="37.129999999999995" fill="#000"/>
<path d="M169.65 627.56 V616.045 M164.65 616.045 H174.65" fill="none"/>
<rect x="161.1" y="627.56" width="17.1" height="113.74000000000001" fill="#fff"/>
<path d="M214.45 691.4799999999999 V678.555 M209.45 678.555 H219.45" fill="none"/>
<rect x="205.89999999999998" y="691.4799999999999" width="17.1" height="49.82000000000005" fill="#000"/>
<path d="M240.75 671.27 V644.01 M235.75 644.01 H245.75" fill="none"/>
<rect x="232.2" y="671.27" width="17.1" height="70.02999999999997" fill="#fff"/>
</g>
<text x="70.7" y="757.5999999999999" font-size="11.4" font-weight="bold" text-anchor="start" textLength="36.6" lengthAdjust="spacingAndGlyphs" fill="#000" stroke="#000" stroke-width="0.3">+ 30 min</text>
<text x="149.0" y="757.5999999999999" font-size="11.4" font-weight="bold" text-anchor="start" textLength="18.2" lengthAdjust="spacingAndGlyphs" fill="#000" stroke="#000" stroke-width="0.3">+1h</text>
<text x="219.5" y="757.5999999999999" font-size="11.4" font-weight="bold" text-anchor="start" textLength="18.4" lengthAdjust="spacingAndGlyphs" fill="#000" stroke="#000" stroke-width="0.3">+2h</text>
<text x="98.8" y="608.0" font-size="15" font-weight="bold" text-anchor="middle" fill="#000" >*</text>
<text x="167.2" y="612.8" font-size="15" font-weight="bold" text-anchor="middle" fill="#000" >*</text>
<text x="173.7" y="612.8" font-size="15" font-weight="bold" text-anchor="middle" fill="#000" >*</text>
<text x="126.1" y="583.6" font-size="14" font-weight="bold" text-anchor="start" textLength="62.5" lengthAdjust="spacingAndGlyphs" fill="#000" >AcH4/H4t</text>
<text transform="translate(22.7,738.9) rotate(-90)" font-size="12" font-weight="bold" textLength="135" lengthAdjust="spacingAndGlyphs" stroke="#000" stroke-width="0.35">AcH4 levels (% of Saline)</text>
<rect x="264.7" y="609.1" width="14.8" height="7.4" fill="#000" stroke="#000" stroke-width="1.4"/>
<rect x="264.7" y="625.4" width="14.8" height="7.4" fill="#fff" stroke="#000" stroke-width="1.4"/>
<text x="288.1" y="616.8" font-size="11.2" text-anchor="start" textLength="31" lengthAdjust="spacingAndGlyphs" fill="#000" >Saline</text>
<text x="288.1" y="633.4" font-size="11.2" text-anchor="start" textLength="21.8" lengthAdjust="spacingAndGlyphs" fill="#000" >NaB</text>
<g stroke="#000" stroke-width="1.5" fill="none">
<path d="M413.2 601.0 V741.0 H627.0"/>
<path d="M408.2 741.0 H413.2"/>
<path d="M408.2 706.0 H413.2"/>
<path d="M408.2 671.0 H413.2"/>
<path d="M408.2 636.0 H413.2"/>
<path d="M408.2 601.0 H413.2"/>
<path d="M449.0 741.0 v4.5"/>
<path d="M520.3 741.0 v4.5"/>
<path d="M591.2 741.0 v4.5"/>
</g>
<text x="407.59999999999997" y="746.4" font-size="11.6" font-weight="bold" text-anchor="end" textLength="4.7" lengthAdjust="spacingAndGlyphs" fill="#000" stroke="#000" stroke-width="0.3">0</text>
<text x="408.59999999999997" y="711.4" font-size="11.6" font-weight="bold" text-anchor="end" textLength="15.6" lengthAdjust="spacingAndGlyphs" fill="#000" stroke="#000" stroke-width="0.3">100</text>
<text x="408.59999999999997" y="676.4" font-size="11.6" font-weight="bold" text-anchor="end" textLength="15.6" lengthAdjust="spacingAndGlyphs" fill="#000" stroke="#000" stroke-width="0.3">200</text>
<text x="408.59999999999997" y="641.4" font-size="11.6" font-weight="bold" text-anchor="end" textLength="15.6" lengthAdjust="spacingAndGlyphs" fill="#000" stroke="#000" stroke-width="0.3">300</text>
<text x="408.59999999999997" y="606.4" font-size="11.6" font-weight="bold" text-anchor="end" textLength="15.6" lengthAdjust="spacingAndGlyphs" fill="#000" stroke="#000" stroke-width="0.3">400</text>
<g stroke="#000" stroke-width="1.4">
<path d="M435.85 705.65 V700.05 M430.85 700.05 H440.85" fill="none"/>
<rect x="427.3" y="705.65" width="17.1" height="35.35000000000002" fill="#000"/>
<path d="M462.15 650.7 V626.55 M457.15 626.55 H467.15" fill="none"/>
<rect x="453.59999999999997" y="650.7" width="17.1" height="90.29999999999995" fill="#fff"/>
<path d="M507.15 704.6 V697.95 M502.15 697.95 H512.15" fill="none"/>
<rect x="498.59999999999997" y="704.6" width="17.1" height="36.39999999999998" fill="#000"/>
<path d="M533.4499999999999 664.0 V655.95 M528.4499999999999 655.95 H538.4499999999999" fill="none"/>
<rect x="524.9" y="664.0" width="17.1" height="77.0" fill="#fff"/>
<path d="M578.0500000000001 703.55 V699.35 M573.0500000000001 699.35 H583.0500000000001" fill="none"/>
<rect x="569.5000000000001" y="703.55" width="17.1" height="37.450000000000045" fill="#000"/>
<path d="M604.35 694.45 V682.725 M599.35 682.725 H609.35" fill="none"/>
<rect x="595.8000000000001" y="694.45" width="17.1" height="46.549999999999955" fill="#fff"/>
</g>
<text x="434.3" y="757.3" font-size="11.4" font-weight="bold" text-anchor="start" textLength="36.6" lengthAdjust="spacingAndGlyphs" fill="#000" stroke="#000" stroke-width="0.3">+ 30 min</text>
<text x="512.0" y="757.3" font-size="11.4" font-weight="bold" text-anchor="start" textLength="18.2" lengthAdjust="spacingAndGlyphs" fill="#000" stroke="#000" stroke-width="0.3">+1h</text>
<text x="583.0" y="757.3" font-size="11.4" font-weight="bold" text-anchor="start" textLength="18.4" lengthAdjust="spacingAndGlyphs" fill="#000" stroke="#000" stroke-width="0.3">+2h</text>
<text x="533.1" y="651.5" font-size="15" font-weight="bold" text-anchor="middle" fill="#000" >*</text>
<text x="487.8" y="583.8" font-size="14" font-weight="bold" text-anchor="start" textLength="62.5" lengthAdjust="spacingAndGlyphs" fill="#000" >AcH4/H4t</text>
<text transform="translate(386.9,739.6) rotate(-90)" font-size="12" font-weight="bold" textLength="135" lengthAdjust="spacingAndGlyphs" stroke="#000" stroke-width="0.35">AcH4 levels (% of Saline)</text>
<rect x="628.2" y="608.9000000000001" width="14.8" height="7.4" fill="#000" stroke="#000" stroke-width="1.4"/>
<rect x="628.2" y="625.2" width="14.8" height="7.4" fill="#fff" stroke="#000" stroke-width="1.4"/>
<text x="651.6" y="616.6" font-size="11.2" text-anchor="start" textLength="31" lengthAdjust="spacingAndGlyphs" fill="#000" >Saline</text>
<text x="651.6" y="633.2" font-size="11.2" text-anchor="start" textLength="21.8" lengthAdjust="spacingAndGlyphs" fill="#000" >NaB</text>
</svg>
</body></html>
